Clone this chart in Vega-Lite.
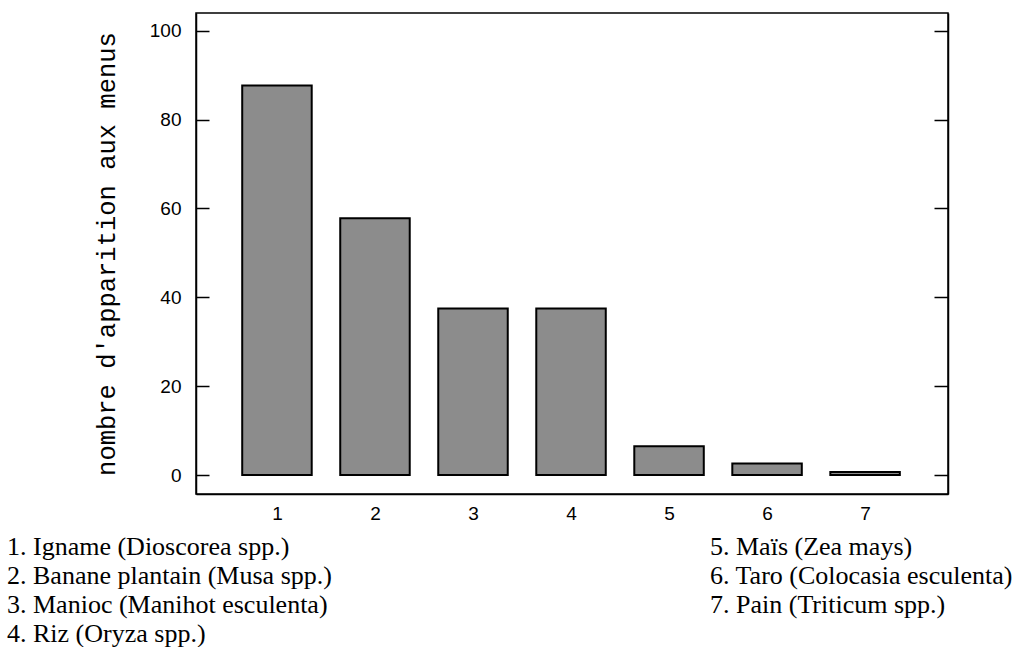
{
  "$schema": "https://vega.github.io/schema/vega-lite/v6.json",
  "padding": {"left": 7, "top": 13, "right": 0, "bottom": 0},
  "width": 752,
  "height": 481,
  "background": "white",
  "config": {
    "view": {"stroke": "black", "strokeWidth": 1.5},
    "axis": {"grid": false, "domainColor": "black", "domainWidth": 1.5, "tickColor": "black", "tickWidth": 1.5, "labelColor": "black", "titleColor": "black"}
  },
  "datasets": {
    "bars": [
      {"n": 1, "v": 87.7},
      {"n": 2, "v": 57.8},
      {"n": 3, "v": 37.5},
      {"n": 4, "v": 37.5},
      {"n": 5, "v": 6.5},
      {"n": 6, "v": 2.6},
      {"n": 7, "v": 0.7}
    ],
    "legend": [
      {"col": 0, "row": 1, "label": "1. Igname (Dioscorea spp.)"},
      {"col": 0, "row": 2, "label": "2. Banane plantain (Musa spp.)"},
      {"col": 0, "row": 3, "label": "3. Manioc (Manihot esculenta)"},
      {"col": 0, "row": 4, "label": "4. Riz (Oryza spp.)"},
      {"col": 1, "row": 1, "label": "5. Maïs (Zea mays)"},
      {"col": 1, "row": 2, "label": "6. Taro (Colocasia esculenta)"},
      {"col": 1, "row": 3, "label": "7. Pain (Triticum spp.)"}
    ]
  },
  "layer": [
    {
      "data": {"name": "bars"},
      "mark": {"type": "bar", "width": 69.5, "fill": "#8c8c8c", "stroke": "black", "strokeWidth": 2},
      "encoding": {
        "x": {
          "field": "n", "type": "quantitative",
          "scale": {"domain": [0.225, 7.795], "nice": false, "zero": false},
          "axis": {"values": [1, 2, 3, 4, 5, 6, 7], "format": "d", "ticks": false, "labelPadding": 10, "labelFont": "Liberation Sans", "labelFontSize": 19, "title": null}
        },
        "y": {
          "field": "v", "type": "quantitative",
          "scale": {"domain": [-4.26, 104], "nice": false},
          "axis": {"values": [0, 20, 40, 60, 80, 100], "tickSize": -13, "labelPadding": 28, "labelFont": "Liberation Sans", "labelFontSize": 19, "title": "nombre d'apparition aux menus", "titleFont": "Liberation Mono", "titleFontSize": 25.5, "titleFontWeight": "normal", "titlePadding": 30}
        },
        "y2": {"datum": 0}
      }
    },
    {
      "data": {"name": "bars"},
      "mark": {"type": "bar", "width": 69.5, "opacity": 0},
      "encoding": {
        "x": {"field": "n", "type": "quantitative", "scale": {"domain": [0.225, 7.795], "nice": false, "zero": false}, "axis": null},
        "y": {
          "field": "v", "type": "quantitative",
          "scale": {"domain": [-4.26, 104], "nice": false},
          "axis": {"orient": "right", "values": [0, 20, 40, 60, 80, 100], "labels": false, "tickSize": -14, "title": null}
        },
        "y2": {"datum": 0}
      }
    },
    {
      "data": {"name": "legend"},
      "mark": {"type": "text", "align": "left", "baseline": "alphabetic", "font": "Liberation Serif", "fontSize": 26, "color": "black"},
      "encoding": {
        "x": {"field": "col", "type": "quantitative", "scale": {"domain": [0, 1], "range": [-189, 514], "nice": false, "zero": false}, "axis": null},
        "y": {"field": "row", "type": "quantitative", "scale": {"domain": [1, 4], "range": [541.8, 628.8], "nice": false, "zero": false}, "axis": null},
        "text": {"field": "label"}
      }
    }
  ],
  "resolve": {"scale": {"x": "independent", "y": "independent"}}
}
